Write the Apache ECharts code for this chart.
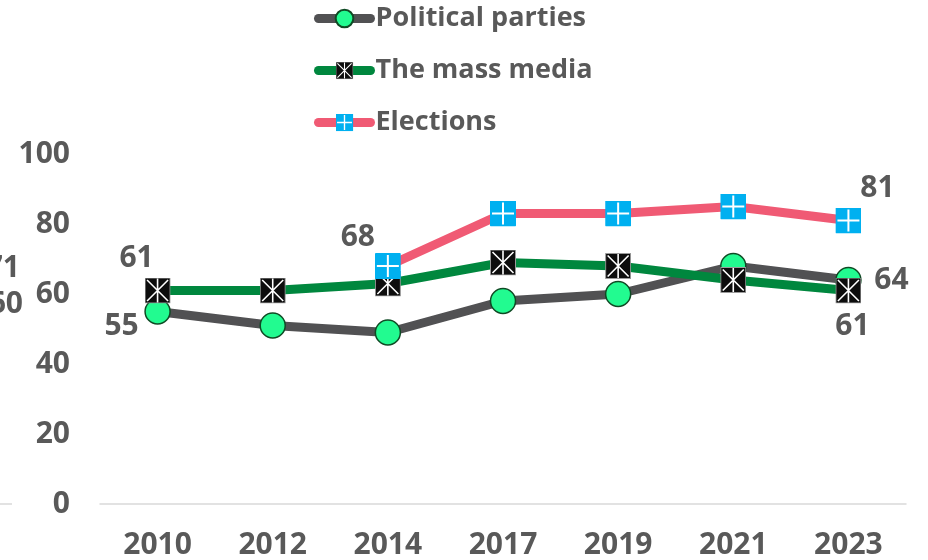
<!DOCTYPE html>
<html><head><meta charset="utf-8">
<script src="https://cdn.jsdelivr.net/npm/echarts@6/dist/echarts.min.js"></script>
<style>html,body{margin:0;padding:0;background:#fff}#c{width:928px;height:560px}</style>
</head><body><div id="c"></div>
<script>
const years = ['2010','2012','2014','2017','2019','2021','2023'];
const political = [55, 51, 49, 58, 60, 68, 64];
const massMedia = [61, 61, 63, 69, 68, 64, 61];
const elections = ['-', '-', 68, 83, 83, 85, 81];
const seriesNames = ['Political parties', 'The mass media', 'Elections'];
const yTicks = [0, 20, 40, 60, 80, 100];

const FONT = 'Open Sans';
const W = 'bold';
const TXT = '#595959';

function svgUri(s){ return 'image://data:image/svg+xml;charset=utf-8,' + encodeURIComponent(s); }
const mediaSym = svgUri("<svg xmlns='http://www.w3.org/2000/svg' width='26' height='26'><rect x='0.5' y='0.5' width='25' height='25' fill='#0d0d0d' stroke='#9a9a9a' stroke-width='1'/><path d='M2.5 2.5L23.5 23.5M23.5 2.5L2.5 23.5M13 1V25' stroke='#ffffff' stroke-width='1.6'/></svg>");
const elecSym = svgUri("<svg xmlns='http://www.w3.org/2000/svg' width='26' height='26'><rect x='0' y='0' width='26' height='26' rx='1' fill='#00b0f0'/><path d='M13 2V24M2 13H24' stroke='#ffffff' stroke-width='2'/></svg>");

const labelBase = {show: true, color: TXT, fontFamily: FONT, fontWeight: W, fontSize: 30, position: 'inside'};
function withLabels(arr, labels){
  return arr.map((v, i) => labels[i] ? {value: v, label: Object.assign({}, labelBase, labels[i])} : v);
}

const chart = echarts.init(document.getElementById('c'), null, {renderer: 'canvas'});
chart.setOption({
  animation: false,
  backgroundColor: '#fff',
  grid: {left: 100, right: 22, top: 154, bottom: 56, containLabel: false},
  legend: {
    orient: 'vertical', left: 314, top: 5, padding: 0,
    itemWidth: 52, itemHeight: 22, itemGap: 25,
    lineStyle: {width: 9, cap: 'round'},
    textStyle: {color: TXT, fontFamily: FONT, fontWeight: W, fontSize: 27, lineHeight: 22, padding: [0,0,0,0]},
    data: seriesNames
  },
  xAxis: {
    type: 'category', data: years, boundaryGap: true,
    axisLine: {show: true, lineStyle: {color: '#d9d9d9', width: 1.5}},
    axisTick: {show: false},
    axisLabel: {color: TXT, fontFamily: FONT, fontWeight: W, fontSize: 30, margin: 26}
  },
  yAxis: {
    type: 'value', min: 0, max: 100, interval: 20,
    axisLine: {show: false}, axisTick: {show: false}, splitLine: {show: false},
    axisLabel: {color: TXT, fontFamily: FONT, fontWeight: W, fontSize: 30, margin: 30,
      formatter: v => yTicks.includes(v) ? String(v) : ''}
  },
  series: [
    {
      name: seriesNames[0], type: 'line', z: 2,
      data: withLabels(political, {0: {offset: [-36, 15]}, 6: {offset: [43, 0]}}),
      symbol: 'circle', symbolSize: 25,
      lineStyle: {color: '#515153', width: 9, cap: 'round'},
      itemStyle: {color: '#22fb90', borderColor: '#0f4a24', borderWidth: 1.5}
    },
    {
      name: seriesNames[1], type: 'line', z: 3,
      data: withLabels(massMedia, {0: {offset: [-21, -32]}, 6: {offset: [4, 36]}}),
      symbol: mediaSym, symbolSize: 26,
      lineStyle: {color: '#00873e', width: 9, cap: 'round'},
      itemStyle: {color: '#00873e'}
    },
    {
      name: seriesNames[2], type: 'line', z: 4,
      data: withLabels(elections, {2: {offset: [-30, -29]}, 6: {offset: [29, -32]}}),
      symbol: elecSym, symbolSize: 26,
      lineStyle: {color: '#f05a74', width: 9, cap: 'round'},
      itemStyle: {color: '#f05a74'}
    }
  ],
  graphic: [
    {type: 'text', x: 20, y: 268, style: {text: '71', fill: TXT, font: 'bold 30px "Open Sans"', align: 'right', verticalAlign: 'middle'}},
    {type: 'text', x: 23, y: 304, style: {text: '60', fill: TXT, font: 'bold 30px "Open Sans"', align: 'right', verticalAlign: 'middle'}},
    {type: 'line', shape: {x1: 0, y1: 504, x2: 12, y2: 504}, style: {stroke: '#d9d9d9', lineWidth: 1.5}}
  ]
});
</script></body></html>
